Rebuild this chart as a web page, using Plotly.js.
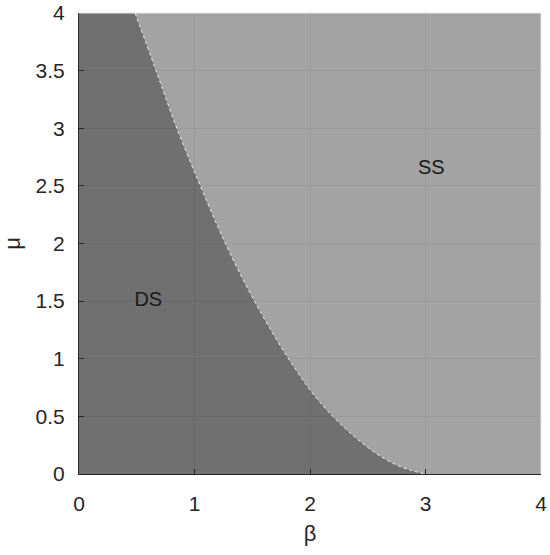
<!DOCTYPE html>
<html>
<head>
<meta charset="utf-8">
<script src="https://cdn.plot.ly/plotly-3.0.1.min.js"></script>
<style>
  html, body { margin: 0; padding: 0; background: #fff; }
  #chart { width: 550px; height: 555px; }
</style>
</head>
<body>
<div id="chart"></div>
<script>
// boundary between DS and SS regions
const beta = [0.485, 0.66, 0.832, 1.034, 1.2,  1.32, 1.45, 1.58, 1.72, 1.86, 2.0,  2.15, 2.3, 2.45, 2.6,  2.75,  2.88, 3.0];
const mu   = [4.0,   3.52, 3.04,  2.54,  2.15, 1.89, 1.63, 1.39, 1.15, 0.93, 0.73, 0.55, 0.4, 0.27, 0.16, 0.078, 0.03, 0.0];

const regionLabels = ['DS', 'SS'];
const labelBeta = [0.6, 3.05];
const labelMu = [1.5, 2.65];

const xTicks = [0, 1, 2, 3, 4];
const yTicks = [0, 0.5, 1, 1.5, 2, 2.5, 3, 3.5, 4];

const font = 'Liberation Sans, Arial, sans-serif';

const data = [
  {
    type: 'scatter',
    mode: 'lines',
    x: beta,
    y: mu,
    fill: 'tozerox',
    fillcolor: 'rgba(0,0,0,0.31)',
    line: { color: 'rgba(255,255,255,0.85)', width: 1, dash: 'dot', shape: 'spline', smoothing: 1 },
    hoverinfo: 'skip',
  },
  {
    type: 'scatter',
    mode: 'text',
    x: labelBeta,
    y: labelMu,
    text: regionLabels,
    textfont: { family: font, size: 20, color: '#1a1a1a' },
    hoverinfo: 'skip',
  },
];

const axisCommon = {
  showgrid: true,
  gridcolor: 'rgba(0,0,0,0.05)',
  zeroline: false,
  showline: true,
  linecolor: '#262626',
  linewidth: 1,
  ticks: 'inside',
  ticklen: 5,
  tickcolor: '#262626',
  tickfont: { family: font, size: 21, color: '#262626' },
  fixedrange: true,
};

const layout = {
  width: 550,
  height: 555,
  paper_bgcolor: '#ffffff',
  plot_bgcolor: '#a3a3a3',
  showlegend: false,
  margin: { l: 79, r: 9, t: 13, b: 81 },
  xaxis: Object.assign({}, axisCommon, {
    range: [0, 4],
    tickvals: xTicks,
    ticktext: xTicks.map(String),
    ticklabelstandoff: 11,
    title: { text: 'β', font: { family: font, size: 22, color: '#262626' }, standoff: 11 },
  }),
  yaxis: Object.assign({}, axisCommon, {
    range: [0, 4],
    tickvals: yTicks,
    ticktext: yTicks.map(String),
    ticklabelstandoff: 9,
    title: { text: 'μ', font: { family: font, size: 22, color: '#262626' }, standoff: 8 },
  }),
  shapes: [
    { type: 'line', xref: 'x domain', yref: 'y domain', x0: 0, x1: 1, y0: 1, y1: 1, line: { color: '#e8e8e8', width: 1 } },
    { type: 'line', xref: 'x domain', yref: 'y domain', x0: 1, x1: 1, y0: 0, y1: 1, line: { color: '#e8e8e8', width: 1 } },
  ],
};

Plotly.newPlot('chart', data, layout, { displayModeBar: false, staticPlot: true });
</script>
</body>
</html>
